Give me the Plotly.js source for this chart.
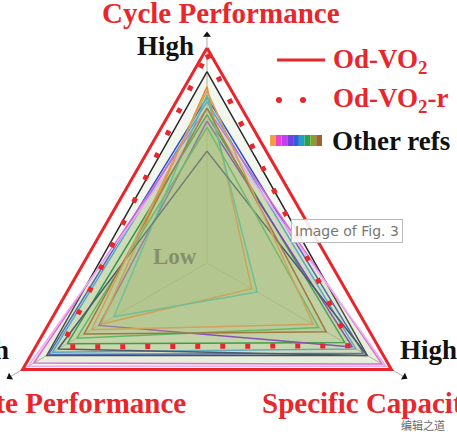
<!DOCTYPE html>
<html>
<head>
<meta charset="utf-8">
<script src="https://cdn.plot.ly/plotly-3.0.1.min.js"></script>
<style>
html,body{margin:0;padding:0;width:457px;height:441px;overflow:hidden;background:#fff;}
#chart{position:absolute;left:-40px;top:0;width:540px;height:520px;}
</style>
</head>
<body>
<div id="chart"></div>
<script>
// ---- data ----
const categories = ['Cycle Performance', 'Specific Capacity', 'Rate Performance'];
const odVO2  = [1.00, 0.99, 0.99];
const odVO2r = [0.97, 0.77, 0.78];
const otherRefs = [
  [0.89, 0.86, 0.86],
  [0.77, 0.84, 0.85],
  [0.75, 0.80, 0.83],
  [0.72, 0.94, 0.93],
  [0.68, 0.96, 0.96],
  [0.69, 0.74, 0.75],
  [0.66, 0.78, 0.58],
  [0.82, 0.24, 0.57],
  [0.78, 0.27, 0.50],
  [0.52, 0.86, 0.80],
  [0.63, 0.60, 0.70],
  [0.72, 0.64, 0.66],
  [0.80, 0.57, 0.62]
];
const otherRefColors = ['#2b2b2b','#3050c8','#40a0e0','#e060e0','#f0a8f0','#2a9a40',
  '#8040c0','#f08a30','#40c0b0','#4a5a70','#60b860','#a07840','#d0a060'];
const axisEnd = [1.06, 1.06, 1.06];
const legendNames = ['Od-VO<sub>2</sub>', 'Od-VO<sub>2</sub>-r', 'Other refs'];
const gradientColors = ['#f0a040','#f040d0','#c040f0','#7040e0','#3060e0','#20a0c0','#30a040','#80a030','#a06030'];

// ---- geometry helpers (page px -> paper) ----
const OFFX = 40, W = 540, H = 520;
const px = x => (x + OFFX) / W;
const py = y => 1 - y / H;
const cx = 207, cy = 263, Rpx = 228;

const close = a => a.concat([a[0]]);
const thetaC = close(categories);

const traces = [];
otherRefs.forEach((v, i) => {
  traces.push({
    type: 'scatterpolar', r: close(v), theta: thetaC, mode: 'lines',
    fill: 'toself', fillcolor: 'rgba(172,190,130,0.14)',
    line: {color: otherRefColors[i], width: 1.5}, hoverinfo: 'skip'
  });
});
traces.push({
  type: 'scatterpolar', r: close(odVO2r), theta: thetaC, mode: 'lines',
  line: {color: '#e8262c', width: 5, dash: '5px,20px'}, hoverinfo: 'skip'
});
traces.push({
  type: 'scatterpolar', r: close(odVO2), theta: thetaC, mode: 'lines',
  line: {color: '#e8262c', width: 3}, hoverinfo: 'skip'
});
traces.push({
  type: 'scatterpolar', r: axisEnd, theta: categories, mode: 'markers',
  marker: {symbol: 'triangle-up', size: 7, color: '#111', angle: [0, 120, 240]},
  hoverinfo: 'skip', cliponaxis: false
});

const serif = 'Liberation Serif, Times New Roman, serif';
const red = '#e8262c';
const ann = (text, x, y, xanchor, size, color, extra) => Object.assign({
  text: text, x: px(x), y: py(y), xref: 'paper', yref: 'paper',
  xanchor: xanchor, yanchor: 'middle', showarrow: false,
  font: {family: serif, size: size, color: color, weight: 'bold'}
}, extra || {});

const annotations = [
  ann('Cycle Performance', 221, 13, 'center', 29, red),
  ann('Rate Performance', 188, 403, 'right', 29, red),
  ann('Specific Capacity', 260, 403, 'left', 29, red),
  ann('High', 196, 46, 'right', 27, '#111'),
  ann('High', 398, 350, 'left', 27, '#111'),
  ann('High', 11, 350, 'right', 27, '#111'),
  ann('Low', 175, 256, 'center', 23, 'rgba(120,125,95,0.75)'),
  ann(legendNames[0], 331, 61, 'left', 27, red),
  ann(legendNames[1], 331, 100, 'left', 27, red),
  ann(legendNames[2], 330, 141, 'left', 27, '#111'),
  ann('Image of Fig. 3', 347, 231, 'center', 14, '#777',
      {font: {family: 'DejaVu Sans, sans-serif', size: 14, color: '#777'},
       bordercolor: '#bbb', borderwidth: 1, bgcolor: 'rgba(255,255,255,0.9)', borderpad: 3}),
  ann('编辑之道', 423, 425, 'center', 11, '#666',
      {font: {family: 'Noto Sans CJK SC', size: 11, color: '#666'}})
];

const shapes = [
  {type: 'line', xref: 'paper', yref: 'paper', x0: px(277), x1: px(325), y0: py(60), y1: py(60),
   line: {color: red, width: 3}},
  {type: 'circle', xref: 'paper', yref: 'paper', x0: px(276), x1: px(282), y0: py(97), y1: py(103),
   fillcolor: red, line: {width: 0}},
  {type: 'circle', xref: 'paper', yref: 'paper', x0: px(300), x1: px(306), y0: py(97), y1: py(103),
   fillcolor: red, line: {width: 0}}
];
const gx0 = 270, gx1 = 322, n = gradientColors.length;
gradientColors.forEach((c, i) => {
  shapes.push({type: 'rect', xref: 'paper', yref: 'paper',
    x0: px(gx0 + (gx1 - gx0) * i / n), x1: px(gx0 + (gx1 - gx0) * (i + 1) / n),
    y0: py(135), y1: py(146), fillcolor: c, line: {width: 0}});
});

const layout = {
  width: W, height: H, margin: {l: 0, r: 0, t: 0, b: 0},
  paper_bgcolor: '#fff', showlegend: false,
  polar: {
    domain: {x: [px(cx - Rpx), px(cx + Rpx)], y: [py(cy + Rpx), py(cy - Rpx)]},
    bgcolor: 'rgba(0,0,0,0)',
    gridshape: 'linear',
    radialaxis: {visible: false, range: [0, 1.06]},
    angularaxis: {type: 'category', rotation: 90, direction: 'clockwise',
      showticklabels: false, ticks: '', showline: false,
      showgrid: true, gridcolor: 'rgba(110,115,90,0.55)', gridwidth: 1}
  },
  annotations: annotations,
  shapes: shapes
};

Plotly.newPlot('chart', traces, layout, {staticPlot: true, displayModeBar: false});
</script>
</body>
</html>
